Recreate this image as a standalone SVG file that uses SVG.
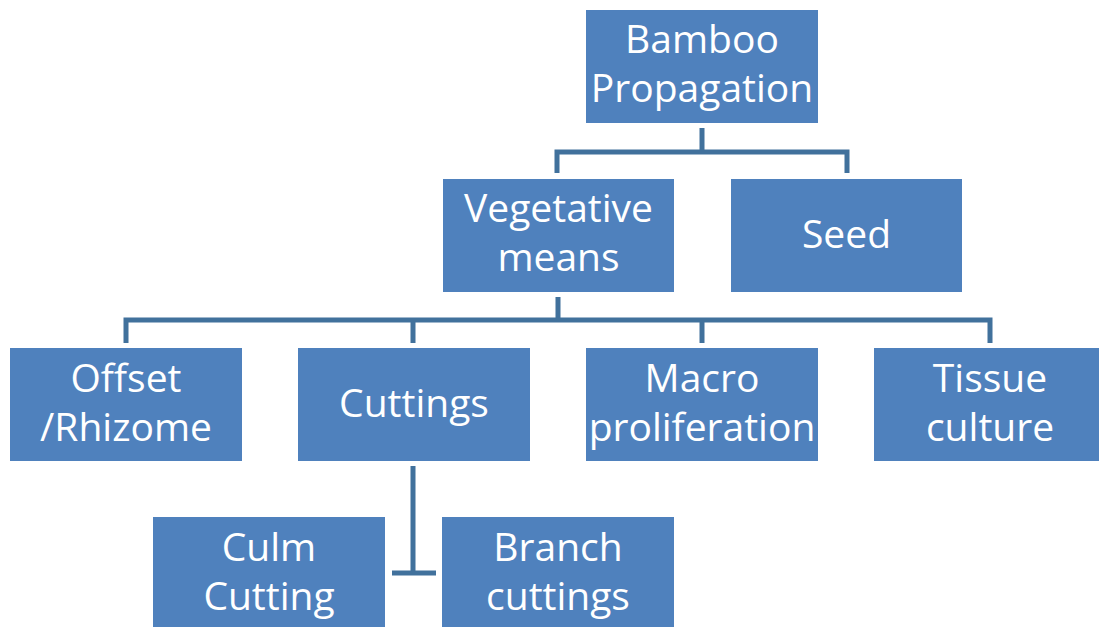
<svg xmlns="http://www.w3.org/2000/svg" width="1099" height="627" viewBox="0 0 1099 627">
<style>
.box{fill:#4F81BD}
.t{font-family:"Open Sans","Liberation Sans",sans-serif;font-size:39px;fill:#FFFFFF;text-anchor:middle}
.c{fill:none;stroke:#41719C;stroke-width:5;stroke-linejoin:miter}
</style>
<rect width="1099" height="627" fill="#FFFFFF"/>
<g id="connectors">
<path class="c" d="M702,128 V152 M557,173 V152 H847 V173"/>
<path class="c" d="M558,297 V320 M126,343 V320 H990 V343 M413,320 V343 M702,320 V343"/>
<path class="c" d="M413,466 V573 M392,573 H436"/>
</g>
<g id="bamboo"><rect class="box" x="586" y="10" width="232" height="113"/><text class="t" x="702" y="53">Bamboo</text><text class="t" x="702" y="102">Propagation</text></g>
<g id="vegetative"><rect class="box" x="443" y="179" width="231" height="113"/><text class="t" x="558.5" y="222">Vegetative</text><text class="t" x="558.5" y="271">means</text></g>
<g id="seed"><rect class="box" x="731" y="179" width="231" height="113"/><text class="t" x="846.5" y="248">Seed</text></g>
<g id="offset"><rect class="box" x="10" y="348" width="232" height="113"/><text class="t" x="126" y="392">Offset</text><text class="t" x="126" y="441">/Rhizome</text></g>
<g id="cuttings"><rect class="box" x="298" y="348" width="232" height="113"/><text class="t" x="414" y="417">Cuttings</text></g>
<g id="macro"><rect class="box" x="586" y="348" width="232" height="113"/><text class="t" x="702" y="392">Macro</text><text class="t" x="702" y="441">proliferation</text></g>
<g id="tissue"><rect class="box" x="874" y="348" width="232" height="113"/><text class="t" x="990" y="392">Tissue</text><text class="t" x="990" y="441">culture</text></g>
<g id="culm"><rect class="box" x="153" y="517" width="232" height="113"/><text class="t" x="269" y="561">Culm</text><text class="t" x="269" y="610">Cutting</text></g>
<g id="branch"><rect class="box" x="442" y="517" width="232" height="113"/><text class="t" x="558" y="561">Branch</text><text class="t" x="558" y="610">cuttings</text></g>
</svg>
